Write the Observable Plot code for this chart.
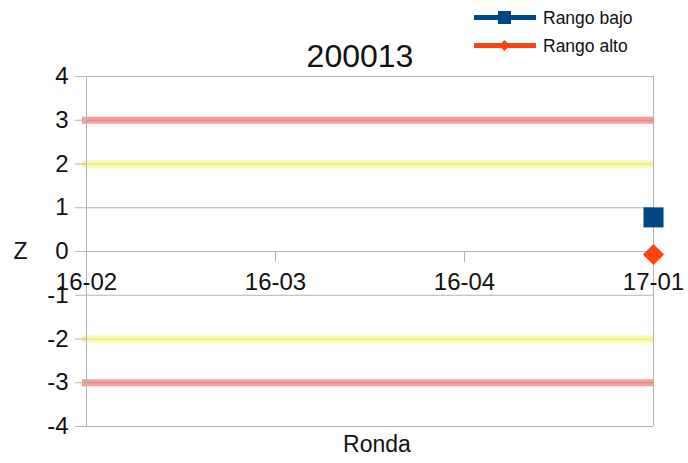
<!DOCTYPE html>
<html>
<head>
<meta charset="utf-8">
<script src="https://cdn.jsdelivr.net/npm/d3@7"></script>
<script src="https://cdn.jsdelivr.net/npm/@observablehq/plot@0.6"></script>
<style>
  body { margin: 0; background: #fff; font-family: "Liberation Sans", Arial, sans-serif; }
  #wrap { position: relative; width: 688px; height: 463px; }
  #legend { position: absolute; left: 474px; top: 4px; font-size: 17.5px; color: #111; }
  .lg { display: flex; align-items: center; height: 28px; }
  .lg svg { margin-right: 7px; }
</style>
</head>
<body>
<div id="wrap">
  <div id="chart"></div>
  <div id="legend"></div>
</div>
<script>
const title = "200013";
const rondas = ["16-02", "16-03", "16-04", "17-01"];
const rangoBajo = [null, null, null, 0.78];
const rangoAlto = [null, null, null, -0.07];
const yTicks = [-4, -3, -2, -1, 0, 1, 2, 3, 4];
const redLimits = [3, -3];
const yellowLimits = [2, -2];
const seriesNames = ["Rango bajo", "Rango alto"];
const seriesColors = ["#004586", "#ff420e"];

const bajo = rondas.map((r, i) => ({ronda: r, z: rangoBajo[i]})).filter(d => d.z != null);
const alto = rondas.map((r, i) => ({ronda: r, z: rangoAlto[i]})).filter(d => d.z != null);

const grid = "#b3b3b3";
const chart = Plot.plot({
  width: 688,
  height: 463,
  marginLeft: 86,
  marginRight: 35,
  marginTop: 76,
  marginBottom: 37,
  style: {fontFamily: "Liberation Sans, Arial, sans-serif", background: "white"},
  x: {type: "point", domain: rondas, padding: 0, axis: null},
  y: {domain: [-4, 4], axis: null},
  marks: [
    Plot.ruleY(yTicks, {stroke: grid, strokeWidth: 1}),
    Plot.ruleY(yellowLimits, {stroke: "#f6f67a", strokeOpacity: 0.65, strokeWidth: 7, insetLeft: -4}),
    Plot.ruleY(redLimits, {stroke: "#f46a6a", strokeOpacity: 0.65, strokeWidth: 7, insetLeft: -4}),
    Plot.ruleX([rondas[0], rondas[rondas.length - 1]], {stroke: grid, strokeWidth: 1}),
    Plot.ruleX(rondas, {y1: 0, y2: -0.25, stroke: grid, strokeWidth: 1}),
    Plot.axisY({ticks: yTicks, tickSize: 11, tickPadding: 7, fontSize: 24, stroke: grid, fill: "#111", label: null, tickFormat: d => String(d)}),
    Plot.text(rondas, {x: d => d, y: 0, dy: 31, fontSize: 24, fill: "#111", text: d => d}),
    Plot.dot(bajo, {x: "ronda", y: "z", symbol: "square", r: 11.3, fill: seriesColors[0], stroke: "none"}),
    Plot.dot(alto, {x: "ronda", y: "z", symbol: "diamond2", r: 9.5, fill: seriesColors[1], stroke: "none"}),
    Plot.text([{t: "Z", z: 0}], {text: "t", y: "z", frameAnchor: "left", dx: -66, fontSize: 23, fill: "#111", textAnchor: "end", dx: -59}),
    Plot.text(["Ronda"], {text: d => d, frameAnchor: "bottom", dx: 7, dy: 25, fontSize: 23, fill: "#111"}),
    Plot.text([title], {text: d => d, frameAnchor: "top", dx: -10, dy: -32, fontSize: 32, fill: "#111"})
  ]
});
document.getElementById("chart").appendChild(chart);

const legend = document.getElementById("legend");
seriesNames.forEach((name, i) => {
  const row = document.createElement("div");
  row.className = "lg";
  const marker = i === 0
    ? `<rect x="24" y="-2" width="13" height="13" fill="${seriesColors[i]}"/>`
    : `<path d="M30.5,-1 L36,4.5 L30.5,10 L25,4.5 Z" fill="${seriesColors[i]}"/>`;
  row.innerHTML = `<svg width="62" height="14" viewBox="0 -2 62 14"><line x1="0" x2="62" y1="4.5" y2="4.5" stroke="${seriesColors[i]}" stroke-width="5"/>${marker}</svg><span>${name}</span>`;
  legend.appendChild(row);
});
</script>
</body>
</html>
